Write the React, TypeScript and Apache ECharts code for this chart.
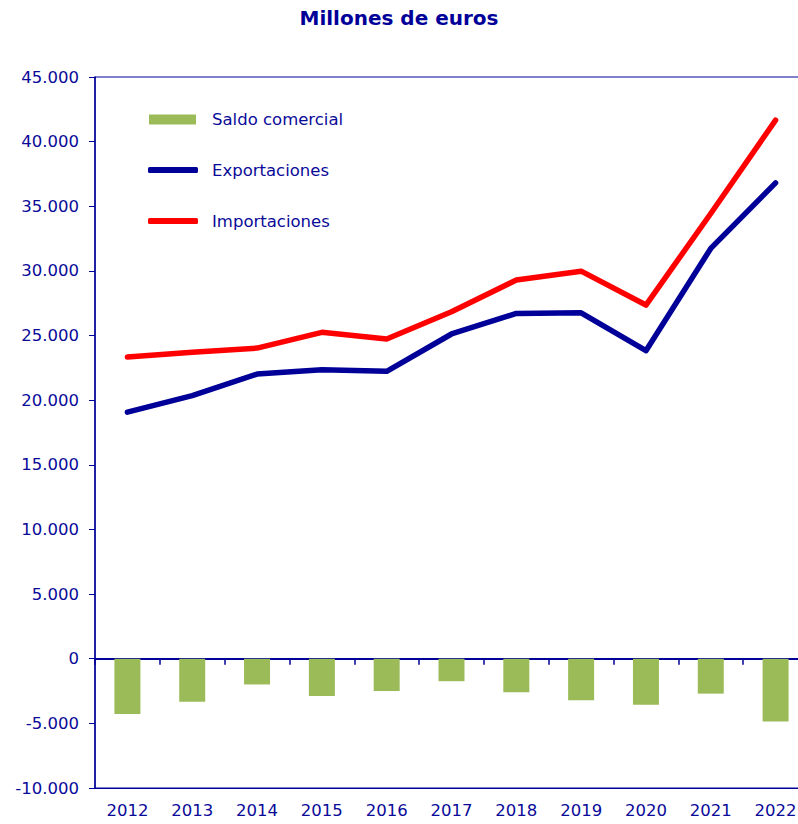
import React, { useEffect, useRef } from "react";
import * as echarts from "echarts";

const years = ["2012", "2013", "2014", "2015", "2016", "2017", "2018", "2019", "2020", "2021", "2022"];
const saldo = [-4270, -3330, -1990, -2890, -2500, -1740, -2590, -3210, -3560, -2700, -4850];
const exportaciones = [19070, 20350, 22020, 22360, 22230, 25120, 26710, 26760, 23830, 31740, 36810];
const importaciones = [23340, 23700, 24030, 25250, 24730, 26840, 29290, 29980, 27360, 34440, 41660];

const NAVY = "#000099";
const TEXT = "#0a0a99";
const FONT = '"DejaVu Sans", Arial, sans-serif';

function fmt(v: number): string {
  const s = String(Math.abs(v)).replace(/\B(?=(\d{3})+(?!\d))/g, ".");
  return v < 0 ? "-" + s : s;
}

export default function App() {
  const ref = useRef<HTMLDivElement>(null);
  useEffect(() => {
    if (!ref.current) return;
    const chart = echarts.init(ref.current, undefined, { renderer: "svg" });
    const legendBase = {
      orient: "vertical",
      left: 148,
      padding: 0,
      itemGap: 0,
      textStyle: { color: TEXT, fontFamily: FONT, fontSize: 16.5 },
      selectedMode: false,
    };
    chart.setOption({
      animation: false,
      backgroundColor: "#ffffff",
      title: {
        text: "Millones de euros",
        left: "center",
        top: 8,
        padding: 0,
        textStyle: { color: NAVY, fontFamily: FONT, fontSize: 20, fontWeight: "bold" },
      },
      legend: [
        {
          ...legendBase,
          top: 111,
          left: 149,
          data: [{ name: "Saldo comercial", icon: "rect" }],
          itemWidth: 47,
          itemHeight: 10,
          textStyle: { ...legendBase.textStyle, padding: [0, 0, 0, 11] },
        },
        {
          ...legendBase,
          top: 161.5,
          data: [{ name: "Exportaciones", icon: "roundRect" }],
          itemWidth: 50,
          itemHeight: 6,
          textStyle: { ...legendBase.textStyle, padding: [0, 0, 0, 9] },
        },
        {
          ...legendBase,
          top: 212.5,
          data: [{ name: "Importaciones", icon: "roundRect" }],
          itemWidth: 50,
          itemHeight: 6,
          textStyle: { ...legendBase.textStyle, padding: [0, 0, 0, 9] },
        },
      ],
      grid: {
        left: 95,
        right: -10,
        top: 77,
        bottom: 36,
        show: true,
        borderColor: NAVY,
        borderWidth: 1,
        backgroundColor: "transparent",
        containLabel: false,
        outerBoundsMode: "none",
      },
      xAxis: [
        {
          type: "category",
          data: years,
          position: "bottom",
          boundaryGap: true,
          axisLine: { onZero: true, lineStyle: { color: NAVY, width: 2 } },
          axisTick: { show: true, length: 6, lineStyle: { color: NAVY, width: 1.5 } },
          axisLabel: { show: false },
          splitLine: { show: false },
        },
        {
          type: "category",
          data: years,
          position: "bottom",
          axisLine: { onZero: false, lineStyle: { color: NAVY, width: 1 } },
          axisTick: { show: false },
          axisLabel: { color: TEXT, fontFamily: FONT, fontSize: 16.5, margin: 14 },
          splitLine: { show: false },
        },
      ],
      yAxis: {
        type: "value",
        min: -10000,
        max: 45000,
        interval: 5000,
        axisLine: { show: true, lineStyle: { color: NAVY, width: 1.5 } },
        axisTick: { show: true, length: 6, lineStyle: { color: NAVY, width: 1 } },
        axisLabel: { color: TEXT, fontFamily: FONT, fontSize: 16.5, margin: 16, formatter: (v: number) => fmt(v) },
        splitLine: { show: false },
      },
      series: [
        {
          name: "Saldo comercial",
          type: "bar",
          xAxisIndex: 0,
          data: saldo,
          barWidth: 26,
          itemStyle: { color: "#9BBB59" },
          z: 1,
        },
        {
          name: "Exportaciones",
          type: "line",
          xAxisIndex: 0,
          data: exportaciones,
          symbol: "none",
          lineStyle: { color: NAVY, width: 5.5, cap: "round", join: "round" },
          itemStyle: { color: NAVY },
          z: 3,
        },
        {
          name: "Importaciones",
          type: "line",
          xAxisIndex: 0,
          data: importaciones,
          symbol: "none",
          lineStyle: { color: "#FF0000", width: 5.5, cap: "round", join: "round" },
          itemStyle: { color: "#FF0000" },
          z: 2,
        },
      ],
    });
    return () => chart.dispose();
  }, []);
  return (
    <div
      ref={ref}
      style={{ position: "absolute", left: 0, top: 0, width: 798, height: 824 }}
    />
  );
}
